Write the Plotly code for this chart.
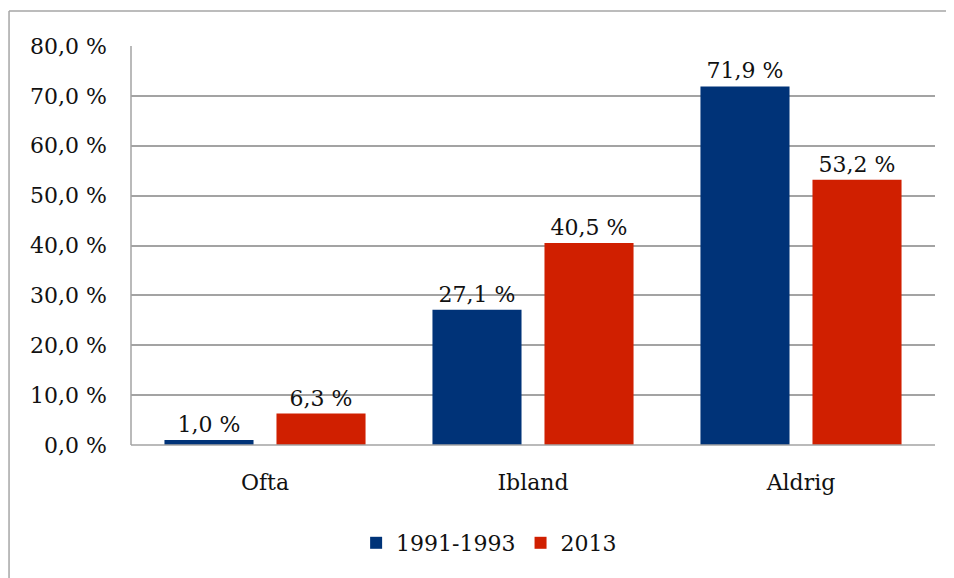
import plotly.graph_objects as go

categories = ["Ofta", "Ibland", "Aldrig"]
series_names = ["1991-1993", "2013"]
values_1991 = [1.0, 27.1, 71.9]
values_2013 = [6.3, 40.5, 53.2]
tick_values = [0, 10, 20, 30, 40, 50, 60, 70, 80]
tick_labels = [f"{v:.1f} %".replace(".", ",") for v in tick_values]

colors = ["#003378", "#D01F00"]
FONT = "DejaVu Serif"
FS = 22

fig = go.Figure()
for name, vals, col in zip(series_names, [values_1991, values_2013], colors):
    fig.add_trace(go.Bar(
        x=categories, y=vals, name=name, marker_color=col, marker_line_width=0,
        text=vals, texttemplate="%{y:.1f} %", textposition="outside",
        textfont=dict(family=FONT, size=FS, color="#111111"),
        constraintext="none", cliponaxis=False,
    ))

fig.update_layout(
    width=946, height=570,
    margin=dict(l=123, r=19, t=38, b=133),
    paper_bgcolor="white", plot_bgcolor="white",
    separators=", ",
    barmode="group", bargap=0.164, bargroupgap=0.205,
    font=dict(family=FONT, size=FS, color="#111111"),
    showlegend=True,
    legend=dict(orientation="h", x=0.280, xanchor="left", y=-0.2456, yanchor="middle",
                font=dict(family=FONT, size=FS, color="#111111"),
                itemwidth=30, tracegroupgap=0),
    xaxis=dict(showgrid=False, showline=False, ticks="", ticklabelstandoff=22,
               tickfont=dict(family=FONT, size=FS)),
    yaxis=dict(range=[0, 80], tickvals=tick_values, ticktext=tick_labels,
               showgrid=True, gridcolor="#A3A3A3", gridwidth=1.5,
               showline=False, zeroline=False, ticks="", ticklabelstandoff=23,
               tickfont=dict(family=FONT, size=FS)),
    shapes=[
        dict(type="line", xref="paper", yref="paper", x0=0, x1=0, y0=0, y1=1,
             line=dict(color="#A3A3A3", width=1.5)),
        dict(type="line", xref="paper", yref="paper", x0=0, x1=1, y0=0, y1=0,
             line=dict(color="#A3A3A3", width=1.5)),
        dict(type="line", xref="paper", yref="paper", x0=-0.1517, x1=-0.1517, y0=-0.42, y1=1.0877,
             line=dict(color="#A6A6A6", width=1.5), layer="below"),
        dict(type="line", xref="paper", yref="paper", x0=-0.1517, x1=1.05, y0=1.0877, y1=1.0877,
             line=dict(color="#A6A6A6", width=1.5), layer="below"),
    ],
)

fig.write_html("out.html")
